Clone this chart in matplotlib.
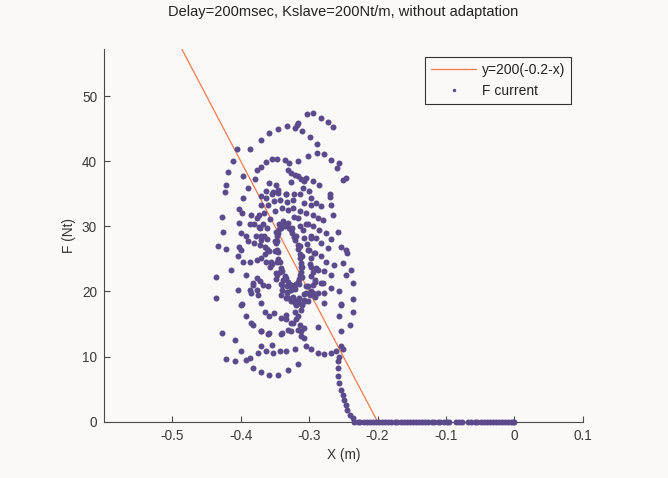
import matplotlib
matplotlib.use("Agg")
import matplotlib.pyplot as plt
from matplotlib.lines import Line2D
import numpy as np

plt.rcParams['font.family'] = ['Liberation Sans', 'DejaVu Sans']

title = "Delay=200msec, Kslave=200Nt/m, without adaptation"
xlabel = "X (m)"
ylabel = "F (Nt)"
legend_labels = ["y=200(-0.2-x)", "F current"]
xticks = [-0.5, -0.4, -0.3, -0.2, -0.1, 0, 0.1]
xticklabels = ["-0.5", "-0.4", "-0.3", "-0.2", "-0.1", "0", "0.1"]
yticks = [0, 10, 20, 30, 40, 50]

# model line y = 200(-0.2 - x)
line_x = [-0.6, 0.0]
K_slave = 200
x_wall = -0.2

# ---- F current samples (x [m], F [Nt]) ----
inner_ring = [(-0.336,30.0),(-0.330,29.7),(-0.325,29.0),(-0.320,27.9),(-0.316,26.6),(-0.313,25.2),
              (-0.312,23.8),(-0.314,22.5),(-0.317,21.5),(-0.321,21.0),(-0.326,21.0),(-0.331,21.5),
              (-0.336,22.4),(-0.341,23.6),(-0.345,25.0),(-0.347,26.4),(-0.347,27.8),(-0.345,29.0),
              (-0.341,29.8)]
inner_ring_b = [(-0.338,30.8),(-0.331,30.5),(-0.325,29.7),(-0.319,28.5),(-0.314,27.0),(-0.311,25.4),
                (-0.310,23.8),(-0.311,22.3),(-0.315,21.1),(-0.320,20.4),(-0.326,20.3),(-0.332,20.8),
                (-0.338,21.8),(-0.343,23.0),(-0.347,24.6),(-0.350,26.2),(-0.350,27.8),(-0.348,29.2),
                (-0.344,30.3)]
inner_ring_d = [(-0.333,30.3),(-0.327,29.5),(-0.322,28.4),(-0.317,27.1),(-0.314,25.8),(-0.312,24.4),
                (-0.312,23.0),(-0.315,21.9),(-0.319,21.1),(-0.324,20.7),(-0.329,21.2),(-0.334,22.0),
                (-0.339,23.2),(-0.343,24.6),(-0.346,26.0),(-0.348,27.4),(-0.347,28.6),(-0.344,29.6),
                (-0.339,30.2)]
ring_2 = [(-0.340,32.8),(-0.331,32.5),(-0.322,31.5),(-0.314,30.0),(-0.307,28.2),(-0.302,26.3),
          (-0.299,24.3),(-0.298,22.4),(-0.301,20.8),(-0.307,19.6),(-0.315,19.0),(-0.324,19.1),
          (-0.332,19.8),(-0.340,21.0),(-0.347,22.5),(-0.354,24.3),(-0.359,26.2),(-0.362,28.0),
          (-0.361,29.7),(-0.357,31.2),(-0.350,32.3)]
ring_2b = [(-0.343,34.0),(-0.333,33.8),(-0.324,32.8),(-0.316,31.3),(-0.309,29.4),(-0.303,27.3),
           (-0.298,25.1),(-0.295,23.0),(-0.295,21.0),(-0.299,19.4),(-0.306,18.5),(-0.315,18.3),
           (-0.324,18.9),(-0.333,19.9),(-0.341,21.2),(-0.349,22.8),(-0.356,24.6),(-0.362,26.5),
           (-0.366,28.5),(-0.368,30.4),(-0.366,32.1),(-0.360,33.3),(-0.352,33.9)]
ring_3 = [(-0.345,35.2),(-0.334,35.0),(-0.323,34.0),(-0.313,32.4),(-0.305,30.4),(-0.298,28.2),
          (-0.293,25.9),(-0.290,23.6),(-0.291,21.5),(-0.295,19.8),(-0.302,18.6),(-0.311,18.0),
          (-0.321,18.2),(-0.331,19.0),(-0.340,20.3),(-0.349,21.9),(-0.357,23.8),(-0.364,25.8),
          (-0.370,27.9),(-0.373,29.9),(-0.374,31.7),(-0.370,33.3),(-0.363,34.4),(-0.354,35.0)]
upper_points = [(-0.346,45.0),(-0.358,44.3),(-0.371,43.2),(-0.386,41.9),(-0.405,41.9),(-0.411,40.1),
                (-0.418,38.4),(-0.397,37.7),(-0.377,38.6),(-0.370,39.2),(-0.363,39.9),(-0.355,40.4),
                (-0.347,40.4),(-0.389,35.9),(-0.422,36.4),(-0.423,35.3),(-0.379,37.3),(-0.358,36.7),
                (-0.370,34.6),(-0.397,34.4),(-0.303,47.3),(-0.294,47.4),(-0.283,46.7),(-0.273,46.1),
                (-0.265,45.2),(-0.333,45.4),(-0.321,45.1),(-0.318,45.6),(-0.316,45.9),(-0.310,44.7),
                (-0.299,43.8),(-0.289,42.7),(-0.302,40.8),(-0.289,41.2),(-0.279,41.1),(-0.268,40.2),
                (-0.257,39.7),(-0.259,38.9),(-0.251,37.2),(-0.246,37.5),(-0.336,40.2),(-0.329,39.7),
                (-0.316,40.0),(-0.331,38.7),(-0.326,38.2),(-0.321,37.9),(-0.316,37.7),(-0.312,37.3),
                (-0.307,37.0),(-0.304,37.5),(-0.295,36.9),(-0.286,36.3),(-0.270,34.9),(-0.270,34.5),
                (-0.348,36.4),(-0.363,35.4),(-0.353,35.3),(-0.346,35.6),(-0.334,34.9),(-0.322,35.0),
                (-0.314,34.9),(-0.309,35.9),(-0.300,35.5),(-0.297,34.4),(-0.326,36.8)]
left_points = [(-0.402,32.6),(-0.398,32.1),(-0.385,31.8),(-0.377,31.3),(-0.428,31.5),(-0.402,30.5),
               (-0.387,30.3),(-0.380,30.3),(-0.372,29.8),(-0.426,29.2),(-0.400,29.0),(-0.392,28.5),
               (-0.378,28.5),(-0.370,28.6),(-0.389,27.7),(-0.380,27.4),(-0.372,27.2),(-0.365,26.9),
               (-0.433,27.0),(-0.421,26.5),(-0.402,26.9),(-0.400,26.4),(-0.404,25.4),(-0.397,24.6),
               (-0.387,24.6),(-0.377,24.9),(-0.370,25.1),(-0.363,24.6),(-0.436,22.2),(-0.414,23.3),
               (-0.392,22.6),(-0.377,22.1),(-0.372,21.6),(-0.367,21.0),(-0.382,21.0),(-0.387,20.3),
               (-0.404,20.3),(-0.377,20.3),(-0.360,20.8)]
right_points = [(-0.307,33.6),(-0.297,33.3),(-0.290,33.6),(-0.283,33.1),(-0.268,33.3),(-0.304,32.1),
                (-0.295,31.8),(-0.287,31.3),(-0.280,31.0),(-0.265,31.8),(-0.302,30.3),(-0.295,30.0),
                (-0.285,29.5),(-0.275,29.0),(-0.258,29.2),(-0.297,28.5),(-0.290,28.2),(-0.283,27.4),
                (-0.273,26.7),(-0.268,28.0),(-0.253,26.9),(-0.246,26.4),(-0.244,25.9),(-0.300,26.4),
                (-0.292,25.9),(-0.283,25.4),(-0.275,24.6),(-0.263,24.1),(-0.251,24.4),(-0.297,23.8),
                (-0.287,23.3),(-0.278,23.1),(-0.268,22.6),(-0.239,23.3),(-0.246,22.6),(-0.236,21.3),
                (-0.292,21.8),(-0.283,21.3),(-0.268,20.5),(-0.256,20.0),(-0.304,20.8),(-0.297,20.0),
                (-0.287,19.8),(-0.253,18.1),(-0.236,18.9),(-0.256,16.2),(-0.241,14.9),(-0.253,13.9),
                (-0.236,16.9),(-0.253,18.0),(-0.280,21.3),(-0.278,19.8),(-0.278,18.2)]
lower_points = [(-0.436,19.0),(-0.399,18.0),(-0.385,19.8),(-0.382,21.3),(-0.375,19.5),(-0.370,18.2),
                (-0.365,16.9),(-0.358,16.2),(-0.351,16.7),(-0.341,15.9),(-0.334,15.7),(-0.327,15.2),
                (-0.316,16.2),(-0.312,17.2),(-0.307,18.7),(-0.304,19.8),(-0.292,19.2),(-0.428,13.6),
                (-0.409,12.6),(-0.399,10.8),(-0.421,9.7),(-0.409,9.3),(-0.392,9.5),(-0.387,9.8),
                (-0.382,8.2),(-0.370,7.7),(-0.358,7.2),(-0.346,7.2),(-0.331,8.0),(-0.316,8.8),
                (-0.375,10.5),(-0.363,10.8),(-0.353,10.5),(-0.343,10.8),(-0.334,10.8),(-0.370,13.9),
                (-0.358,13.6),(-0.339,13.6),(-0.331,14.1),(-0.316,14.1),(-0.307,14.4),(-0.287,14.6),
                (-0.385,15.2),(-0.398,18.1),(-0.392,16.2),(-0.382,14.9),(-0.371,14.0),(-0.360,13.4),
                (-0.370,11.7),(-0.355,11.8),(-0.341,13.4),(-0.334,16.4),(-0.324,15.2),(-0.326,13.9),
                (-0.321,11.1),(-0.341,19.5),(-0.334,19.0),(-0.326,18.6),(-0.319,18.6)]
contact_trail = [(-0.234,0.0),(-0.236,0.5),(-0.240,1.1),(-0.244,1.8),(-0.246,2.6),(-0.249,3.4),
                 (-0.251,4.1),(-0.253,4.9),(-0.256,5.9),(-0.258,7.0),(-0.258,8.2),(-0.258,9.3),
                 (-0.256,10.0),(-0.251,11.1),(-0.253,11.6),(-0.261,10.8),(-0.268,10.5),(-0.278,10.4),
                 (-0.287,10.5),(-0.297,11.1),(-0.304,11.6),(-0.312,13.1),(-0.307,12.9),(-0.312,13.9),
                 (-0.314,14.9),(-0.319,15.7),(-0.321,16.9),(-0.319,17.9)]
free_motion_x = [-0.229,-0.225,-0.220,-0.216,-0.211,-0.207,-0.202,-0.198,-0.193,-0.189,-0.184,
                 -0.180,-0.175,-0.171,-0.166,-0.162,-0.157,-0.153,-0.148,-0.144,-0.139,-0.135,
                 -0.130,-0.126,-0.121,-0.117,-0.112,-0.108,-0.103,-0.098,-0.095,-0.085,-0.081,
                 -0.077,-0.068,-0.063,-0.058,-0.054,-0.049,-0.045,-0.040,-0.036,-0.031,-0.027,
                 -0.022,-0.018,-0.013,-0.009,-0.005,-0.002,0.000]

groups = [inner_ring, inner_ring_b, inner_ring_d, ring_2, ring_2b, ring_3,
          upper_points, left_points, right_points, lower_points, contact_trail]
pts = np.array([p for g in groups for p in g])
fx = np.concatenate([pts[:, 0], free_motion_x])
fy = np.concatenate([pts[:, 1], np.zeros(len(free_motion_x))])

bg = '#faf9f7'
purple = '#5b4a8c'
orange = '#f07a4e'
axis_col = '#4a4a4a'

fig = plt.figure(figsize=(6.68, 4.78), dpi=100, facecolor=bg)
ax = fig.add_axes([0.1557, 0.1178, 0.7166, 0.779])
ax.set_facecolor(bg)

lx = np.array(line_x)
ax.plot(lx, K_slave * (x_wall - lx), color=orange, lw=0.9, zorder=2)
ax.plot(fx, fy, linestyle='none', marker='o', markersize=4.3, markeredgewidth=0,
        color=purple, clip_on=False, zorder=3)

ax.set_xlim(-0.6, 0.1)
ax.set_ylim(0, 57.2)
ax.set_xticks(xticks)
ax.set_xticklabels(xticklabels)
ax.set_yticks(yticks)

for s in ['top', 'right']:
    ax.spines[s].set_visible(False)
for s in ['left', 'bottom']:
    ax.spines[s].set_color(axis_col)
    ax.spines[s].set_linewidth(0.8)
ax.tick_params(direction='in', length=4, width=0.8, color=axis_col,
               labelcolor='#3a3a3a', labelsize=9.8, pad=5)

ax.set_title(title, fontsize=10.5, color='#222222', pad=24)
ax.set_xlabel(xlabel, fontsize=9.8, color='#333333', labelpad=4)
ax.set_ylabel(ylabel, fontsize=9.8, color='#333333', labelpad=4)

handles = [Line2D([], [], color=orange, lw=0.9),
           Line2D([], [], linestyle='none', marker='o', markersize=2.5,
                  markeredgewidth=0, color=purple)]
leg = ax.legend(handles, legend_labels, loc='upper right', bbox_to_anchor=(0.976, 0.979),
                fontsize=10, frameon=True, fancybox=False, framealpha=1,
                facecolor=bg, edgecolor='#333333', handlelength=3.3,
                borderpad=0.42, labelspacing=0.5, handletextpad=0.4, borderaxespad=0)
leg.get_frame().set_linewidth(0.8)
for t in leg.get_texts():
    t.set_color('#222222')

fig.savefig('out.png', dpi=100, facecolor=bg)
